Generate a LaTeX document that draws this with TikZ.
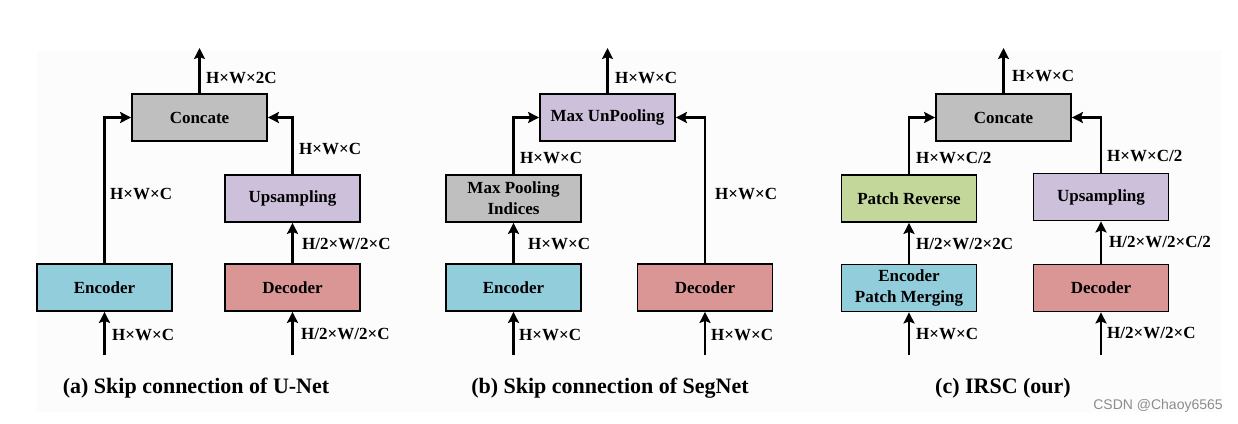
\documentclass[tikz,border=0pt]{standalone}
\usepackage{fontspec}
\setmainfont{Liberation Serif}
\newfontfamily\wmfont{Liberation Sans}
\usepackage{xcolor}
\usetikzlibrary{arrows.meta,calc,positioning}
\definecolor{encblue}{HTML}{92CDDC}
\definecolor{decred}{HTML}{DA9694}
\definecolor{upviolet}{HTML}{CCC0DA}
\definecolor{catgray}{HTML}{BFBFBF}
\definecolor{revgreen}{HTML}{C4D79B}

\begin{document}
\begin{tikzpicture}[x=1pt,y=-1pt,
  blk/.style={draw=black,line width=1.8pt,minimum width=135pt,minimum height=47pt,inner sep=0pt,
              align=center,font=\fontsize{17}{21}\selectfont\bfseries},
  flow/.style={line width=2.6pt,-{Stealth[length=11pt,width=11pt,inset=2pt]}},
  dim/.style={anchor=west,inner sep=0pt,font=\fontsize{17}{20}\selectfont\bfseries},
  subcap/.style={inner sep=0pt,font=\fontsize{22}{24}\selectfont\bfseries}]
\useasboundingbox (0,0) rectangle (1238,423);
\fill[black!1] (37,51) rectangle (1222,412);

% (a) U-Net
\node[blk,fill=catgray]  (aCat) at (199.5,117.5) {Concate};
\node[blk,fill=encblue]  (aEnc) at (104.5,287.5) {Encoder};
\node[blk,fill=upviolet] (aUp)  at (292.5,198.5) {Upsampling};
\node[blk,fill=decred]   (aDec) at (292.5,287.5) {Decoder};
\coordinate (aOut)   at (199.5,48);
\coordinate (aEncIn) at (104.5,355);
\coordinate (aDecIn) at (292.5,355);
\draw[flow] (aCat.north) -- (aOut);
\draw[flow] (aEncIn) -- (aEnc.south);
\draw[flow] (aDecIn) -- (aDec.south);
\draw[flow] (aEnc.north) |- (aCat.west);
\draw[flow] (aDec.north) -- (aUp.south);
\draw[flow] (aUp.north) |- (aCat.east);
\node[dim] (aD1) at (206,77.5)  {H×W×2C};
\node[dim] (aD2) at (110,194)   {H×W×C};
\node[dim] (aD3) at (112,335)   {H×W×C};
\node[dim] (aD4) at (299,149)   {H×W×C};
\node[dim] (aD5) at (302,244)   {H/2×W/2×C};
\node[dim] (aD6) at (301,334)   {H/2×W/2×C};
\node[subcap] (aCap) at (196,388) {(a) Skip connection of U-Net};

% (b) SegNet
\node[blk,fill=upviolet] (bUnp) at (607.5,117.5) {Max UnPooling};
\node[blk,fill=catgray]  (bMpi) at (513.5,198.5) {Max Pooling\\Indices};
\node[blk,fill=encblue]  (bEnc) at (513.5,287.5) {Encoder};
\node[blk,fill=decred]   (bDec) at (705,287.5)   {Decoder};
\coordinate (bOut)   at (607.5,48);
\coordinate (bEncIn) at (513.5,355);
\coordinate (bDecIn) at (705,355);
\draw[flow] (bUnp.north) -- (bOut);
\draw[flow] (bEncIn) -- (bEnc.south);
\draw[flow] (bDecIn) -- (bDec.south);
\draw[flow] (bEnc.north) -- (bMpi.south);
\draw[flow] (bMpi.north) |- (bUnp.west);
\draw[flow] (bDec.north) |- (bUnp.east);
\node[dim] (bD1) at (615,77.5) {H×W×C};
\node[dim] (bD2) at (520,158)  {H×W×C};
\node[dim] (bD3) at (528,244)  {H×W×C};
\node[dim] (bD4) at (519,335)  {H×W×C};
\node[dim] (bD5) at (715,194)  {H×W×C};
\node[dim] (bD6) at (711,335)  {H×W×C};
\node[subcap] (bCap) at (610,388) {(b) Skip connection of SegNet};

% (c) IRSC
\node[blk,fill=catgray]  (cCat) at (1003.5,117.5) {Concate};
\node[blk,fill=revgreen] (cRev) at (909,198.5)    {Patch Reverse};
\node[blk,fill=encblue]  (cEnc) at (909,288)      {Encoder\\Patch Merging};
\node[blk,fill=upviolet] (cUp)  at (1101,197)     {Upsampling};
\node[blk,fill=decred]   (cDec) at (1101,288)     {Decoder};
\coordinate (cOut)   at (1003.5,48);
\coordinate (cEncIn) at (909,355);
\coordinate (cDecIn) at (1101,355);
\draw[flow] (cCat.north) -- (cOut);
\draw[flow] (cEncIn) -- (cEnc.south);
\draw[flow] (cDecIn) -- (cDec.south);
\draw[flow] (cEnc.north) -- (cRev.south);
\draw[flow] (cRev.north) |- (cCat.west);
\draw[flow] (cDec.north) -- (cUp.south);
\draw[flow] (cUp.north) |- (cCat.east);
\node[dim] (cD1) at (1012,76)  {H×W×C};
\node[dim] (cD2) at (916,158)  {H×W×C/2};
\node[dim] (cD3) at (916,244)  {H/2×W/2×2C};
\node[dim] (cD4) at (916,334)  {H×W×C};
\node[dim] (cD5) at (1107,156) {H×W×C/2};
\node[dim] (cD6) at (1109,242) {H/2×W/2×C/2};
\node[dim] (cD7) at (1107,333) {H/2×W/2×C};
\node[subcap] (cCap) at (1003,388) {(c) IRSC (our)};

\node[inner sep=0pt,text=black!45,font=\wmfont\fontsize{14}{16}\selectfont] (wm) at (1158,405.5) {CSDN @Chaoy6565};
\end{tikzpicture}
\end{document}
